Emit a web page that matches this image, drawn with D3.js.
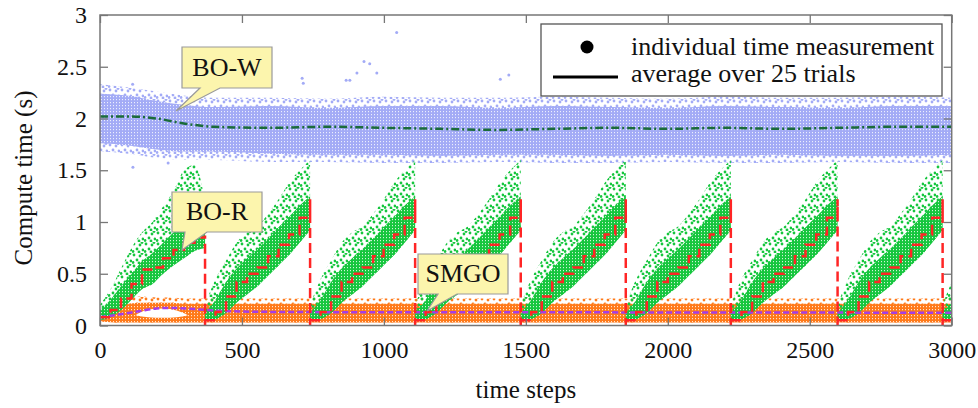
<!DOCTYPE html>
<html>
<head>
<meta charset="utf-8">
<script src="https://cdn.jsdelivr.net/npm/d3@7"></script>
<style>
    body { margin: 0; background: #fff; }
    svg { display: block; }
    svg text { font-family: "Liberation Serif", "Times New Roman", serif; fill: #111; }
</style>
</head>
<body>
<svg id="chart" width="978" height="408" font-family="Liberation Serif, serif"></svg>
<script>
// ---- data ----
const xTicks = [0, 500, 1000, 1500, 2000, 2500, 3000];
const yTicks = [0, 0.5, 1, 1.5, 2, 2.5, 3];
const legendLabels = ['individual time measurement', 'average over 25 trials'];
const seriesNames = ['BO-W', 'BO-R', 'SMGO'];

// BO-W: band of measurements and its average
const bowSteps = [0, 100, 200, 300, 400, 600, 800, 1000, 1200, 1400, 1600, 1800, 2000, 2200, 2400, 2600, 2800, 3000];
const bowLow = [1.76, 1.74, 1.70, 1.68, 1.68, 1.66, 1.65, 1.65, 1.64, 1.65, 1.65, 1.64, 1.65, 1.64, 1.65, 1.64, 1.64, 1.65];
const bowHigh = [2.24, 2.22, 2.17, 2.13, 2.11, 2.12, 2.10, 2.12, 2.12, 2.10, 2.12, 2.11, 2.10, 2.12, 2.11, 2.10, 2.12, 2.12];
const bowOuterLow = [1.68, 1.66, 1.62, 1.60, 1.60, 1.58, 1.58, 1.57, 1.57, 1.58, 1.57, 1.57, 1.58, 1.57, 1.57, 1.58, 1.57, 1.57];
const bowOuterHigh = [2.33, 2.30, 2.26, 2.22, 2.20, 2.20, 2.19, 2.21, 2.20, 2.20, 2.21, 2.20, 2.19, 2.21, 2.20, 2.20, 2.21, 2.20];
const bowAvg = [2.02, 2.02, 2.00, 1.95, 1.92, 1.91, 1.92, 1.91, 1.90, 1.89, 1.90, 1.91, 1.90, 1.91, 1.90, 1.91, 1.92, 1.92];
const bowOutlierSteps = [1045, 930, 950, 905, 975, 880, 712, 716, 867, 1410, 1440, 1700, 1720, 2300, 2280, 2380, 2420, 2680, 2920, 2890, 115, 116, 240];
const bowOutlierValues = [2.83, 2.55, 2.53, 2.44, 2.44, 2.37, 2.39, 2.34, 2.37, 2.38, 2.42, 2.30, 2.27, 2.30, 2.25, 2.40, 2.33, 2.32, 2.30, 2.27, 2.33, 1.53, 1.57];

// BO-R: restarts, and the shape of one cycle (t = fraction of the cycle)
const borResets = [0, 370, 740, 1110, 1482, 1852, 2222, 2598, 2968];
const cycleT = [0, 0.1, 0.2, 0.3, 0.4, 0.5, 0.6, 0.7, 0.8, 0.9, 1.0];
const firstLow = [0.05, 0.08, 0.15, 0.25, 0.35, 0.40, 0.50, 0.58, 0.65, 0.72, 0.75];
const firstHigh = [0.15, 0.25, 0.38, 0.50, 0.62, 0.70, 0.80, 0.90, 1.00, 1.05, 1.00];
const firstTop = [0.20, 0.35, 0.55, 0.75, 0.90, 1.00, 1.15, 1.30, 1.50, 1.55, 1.20];
const firstAvg = [0.08, 0.15, 0.26, 0.40, 0.54, 0.56, 0.65, 0.73, 0.80, 0.85, 0.87];
const cycleLow = [0.04, 0.06, 0.12, 0.22, 0.30, 0.38, 0.48, 0.58, 0.68, 0.80, 0.92];
const cycleHigh = [0.12, 0.25, 0.42, 0.55, 0.65, 0.74, 0.84, 0.95, 1.05, 1.16, 1.25];
const cycleTop = [0.20, 0.45, 0.63, 0.80, 0.90, 0.96, 1.08, 1.22, 1.38, 1.50, 1.60];
const cycleAvg = [0.05, 0.13, 0.28, 0.42, 0.50, 0.56, 0.67, 0.78, 0.88, 1.04, 1.22];

// SMGO
const smgoSteps = [0, 50, 100, 150, 200, 250, 300, 350, 400, 500, 700, 1000, 1500, 2000, 2500, 3000];
const smgoLow = [0.04, 0.03, 0.03, 0.03, 0.03, 0.03, 0.03, 0.03, 0.03, 0.03, 0.03, 0.03, 0.03, 0.03, 0.03, 0.03];
const smgoHigh = [0.12, 0.18, 0.21, 0.22, 0.22, 0.22, 0.21, 0.21, 0.21, 0.21, 0.21, 0.21, 0.21, 0.21, 0.21, 0.21];
const smgoTop = [0.15, 0.24, 0.27, 0.28, 0.27, 0.27, 0.26, 0.26, 0.26, 0.26, 0.26, 0.26, 0.26, 0.26, 0.26, 0.26];
const smgoAvg = [0.08, 0.10, 0.12, 0.145, 0.165, 0.17, 0.165, 0.155, 0.145, 0.135, 0.13, 0.128, 0.128, 0.126, 0.125, 0.122];
// empty lens inside the SMGO band at the start
const smgoGapSteps = [125, 170, 220, 270, 310];
const smgoGapLow = [0.10, 0.08, 0.075, 0.08, 0.10];
const smgoGapHigh = [0.10, 0.155, 0.165, 0.145, 0.10];

// ---- chart ----
const svg = d3.select('#chart');
const plotLeft = 100, plotRight = 951.7, plotTop = 15, plotBottom = 325.5;
const serif = '"Liberation Serif", "Times New Roman", serif';

const x = d3.scaleLinear().domain([0, 3000]).range([plotLeft, plotRight]);
const y = d3.scaleLinear().domain([0, 3]).range([plotBottom, plotTop]);

const colors = {
    bow: '#a3abf6', bowAvg: '#1b6b3a',
    bor: '#16c63e', borAvg: '#ff2525',
    smgo: '#ff7a1a', smgoAvg: '#a43de6'
};

const defs = svg.append('defs');
defs.append('clipPath').attr('id', 'plotClip')
    .append('rect')
    .attr('x', plotLeft).attr('y', plotTop)
    .attr('width', plotRight - plotLeft).attr('height', plotBottom - plotTop + 2);

// dense: solid colour with small white gaps; sparse: loose dots
function makePattern(id, color, dense) {
    const p = defs.append('pattern')
        .attr('id', id)
        .attr('patternUnits', 'userSpaceOnUse');
    if (dense) {
        p.attr('width', 3).attr('height', 3);
        p.append('rect').attr('width', 3).attr('height', 3).attr('fill', color);
        p.append('rect').attr('x', 2.2).attr('y', 0).attr('width', 0.8).attr('height', 1.2).attr('fill', '#fff');
    } else {
        p.attr('width', 12).attr('height', 11);
        [[2, 2], [8, 3], [5, 7], [11, 8], [10, 0.5], [1, 9.5], [7, 10]].forEach(([cx, cy]) => {
            p.append('circle').attr('cx', cx).attr('cy', cy).attr('r', 1.4).attr('fill', color);
        });
    }
}
makePattern('bowDense', colors.bow, true);
makePattern('bowSparse', colors.bow, false);
makePattern('borDense', colors.bor, true);
makePattern('borSparse', colors.bor, false);
makePattern('smgoDense', colors.smgo, true);
makePattern('smgoSparse', colors.smgo, false);

const plot = svg.append('g').attr('clip-path', 'url(#plotClip)');

const band = d3.area()
    .x(d => x(d.x))
    .y0(d => y(d.lo))
    .y1(d => y(d.hi))
    .curve(d3.curveMonotoneX);

function zipBand(steps, lo, hi) {
    return steps.map((s, i) => ({ x: s, lo: lo[i], hi: hi[i] }));
}

// BO-W cloud
plot.append('path').datum(zipBand(bowSteps, bowOuterLow, bowOuterHigh))
    .attr('d', band).attr('fill', 'url(#bowSparse)');
plot.append('path').datum(zipBand(bowSteps, bowLow, bowHigh))
    .attr('d', band).attr('fill', 'url(#bowDense)');
plot.selectAll('.bow-out')
    .data(bowOutlierSteps.map((s, i) => ({ x: s, v: bowOutlierValues[i] })))
    .enter().append('circle')
    .attr('class', 'bow-out')
    .attr('cx', d => x(d.x)).attr('cy', d => y(d.v))
    .attr('r', 1.5).attr('fill', colors.bow);

// SMGO cloud
plot.append('path').datum(zipBand(smgoSteps, smgoLow, smgoTop))
    .attr('d', band).attr('fill', 'url(#smgoSparse)');
plot.append('path').datum(zipBand(smgoSteps, smgoLow, smgoHigh))
    .attr('d', band).attr('fill', 'url(#smgoDense)');
plot.append('path').datum(zipBand(smgoGapSteps, smgoGapLow, smgoGapHigh))
    .attr('d', band).attr('fill', '#fff');

// BO-R cycles
const cycles = borResets.map((start, k) => {
    const len = k < borResets.length - 1 ? borResets[k + 1] - start : 370;
    const first = k === 0;
    return cycleT.map((t, i) => ({
        x: start + t * len,
        lo: first ? firstLow[i] : cycleLow[i],
        hi: first ? firstHigh[i] : cycleHigh[i],
        top: first ? firstTop[i] : cycleTop[i],
        avg: first ? firstAvg[i] : cycleAvg[i]
    }));
});

cycles.forEach(c => {
    plot.append('path')
        .datum(c.map(d => ({ x: d.x, lo: d.lo, hi: d.top })))
        .attr('d', band).attr('fill', 'url(#borSparse)');
    plot.append('path')
        .datum(c)
        .attr('d', band).attr('fill', 'url(#borDense)');
});

// averages
plot.append('path')
    .datum(smgoSteps.map((s, i) => ({ x: s, v: smgoAvg[i] })))
    .attr('d', d3.line().x(d => x(d.x)).y(d => y(d.v)).curve(d3.curveMonotoneX))
    .attr('fill', 'none').attr('stroke', colors.smgoAvg)
    .attr('stroke-width', 2.5).attr('stroke-dasharray', '6,3');

cycles.forEach(c => {
    const pts = c.map(d => ({ x: d.x, v: d.avg }));
    pts.push({ x: c[c.length - 1].x, v: 0 });
    plot.append('path')
        .datum(pts)
        .attr('d', d3.line().x(d => x(d.x)).y(d => y(d.v)).curve(d3.curveStepAfter))
        .attr('fill', 'none').attr('stroke', colors.borAvg)
        .attr('stroke-width', 2.5).attr('stroke-dasharray', '10,5');
});

plot.append('path')
    .datum(bowSteps.map((s, i) => ({ x: s, v: bowAvg[i] })))
    .attr('d', d3.line().x(d => x(d.x)).y(d => y(d.v)).curve(d3.curveMonotoneX))
    .attr('fill', 'none').attr('stroke', colors.bowAvg)
    .attr('stroke-width', 2.5).attr('stroke-dasharray', '8,3,2,3');

// axes (ticks on all four sides, pointing in)
const axisColor = '#777';
const plain = d3.format('');
function styleAxis(g) {
    g.attr('font-family', serif);
    g.select('.domain').remove();
    g.selectAll('line').attr('stroke', axisColor).attr('stroke-width', 1.3);
    g.selectAll('text').style('font-size', '24px').style('font-family', serif).attr('fill', '#111');
}
svg.append('g').attr('transform', `translate(0,${plotBottom})`)
    .call(d3.axisBottom(x).tickValues(xTicks).tickFormat(plain).tickSize(-8).tickSizeOuter(0).tickPadding(15))
    .call(styleAxis);
svg.append('g').attr('transform', `translate(0,${plotTop})`)
    .call(d3.axisTop(x).tickValues(xTicks).tickSize(-8).tickSizeOuter(0).tickFormat(''))
    .call(styleAxis);
svg.append('g').attr('transform', `translate(${plotLeft},0)`)
    .call(d3.axisLeft(y).tickValues(yTicks).tickFormat(plain).tickSize(-8).tickSizeOuter(0).tickPadding(13))
    .call(styleAxis);
svg.append('g').attr('transform', `translate(${plotRight},0)`)
    .call(d3.axisRight(y).tickValues(yTicks).tickSize(-8).tickSizeOuter(0).tickFormat(''))
    .call(styleAxis);

svg.append('rect')
    .attr('x', plotLeft).attr('y', plotTop)
    .attr('width', plotRight - plotLeft).attr('height', plotBottom - plotTop)
    .attr('fill', 'none').attr('stroke', axisColor).attr('stroke-width', 1.5);

svg.append('text')
    .attr('x', (plotLeft + plotRight) / 2).attr('y', 398)
    .attr('text-anchor', 'middle').style('font-size', '25px').style('font-family', serif)
    .text('time steps');
svg.append('text')
    .attr('transform', 'translate(32,178) rotate(-90)')
    .attr('text-anchor', 'middle').style('font-size', '25px').style('font-family', serif)
    .text('Compute time (s)');

// legend
const legend = svg.append('g');
legend.append('rect')
    .attr('x', 541).attr('y', 24).attr('width', 401).attr('height', 72)
    .attr('fill', '#fff').attr('stroke', '#555').attr('stroke-width', 1.3);
legend.append('circle').attr('cx', 587).attr('cy', 47).attr('r', 6.5).attr('fill', '#000');
legend.append('line')
    .attr('x1', 553).attr('x2', 618).attr('y1', 77).attr('y2', 77)
    .attr('stroke', '#000').attr('stroke-width', 3);
legend.selectAll('.leg-text')
    .data(legendLabels)
    .enter().append('text')
    .attr('class', 'leg-text')
    .attr('x', 631).attr('y', (d, i) => 55 + i * 27)
    .style('font-size', '26px').style('font-family', serif)
    .text(d => d);

// callouts: box [x0, y0, x1, y1], pointer base [bx0, bx1], tip [tx, ty] in pixels
const callouts = [
    { label: seriesNames[0], box: [182, 47, 272, 88], base: [200, 220], tip: [176, 111] },
    { label: seriesNames[1], box: [172, 192, 262, 232], base: [185, 207], tip: [182, 250] },
    { label: seriesNames[2], box: [418, 254, 508, 294], base: [438, 457], tip: [427, 311] }
];
callouts.forEach(c => {
    const [x0, y0, x1, y1] = c.box;
    const path = d3.path();
    path.moveTo(x0, y0);
    path.lineTo(x1, y0);
    path.lineTo(x1, y1);
    path.lineTo(c.base[1], y1);
    path.lineTo(c.tip[0], c.tip[1]);
    path.lineTo(c.base[0], y1);
    path.lineTo(x0, y1);
    path.closePath();
    svg.append('path')
        .attr('d', path.toString())
        .attr('fill', '#fcf5ad').attr('stroke', '#9a9a9a').attr('stroke-width', 1.2);
    svg.append('text')
        .attr('x', (x0 + x1) / 2).attr('y', y1 - 12)
        .attr('text-anchor', 'middle').style('font-size', '26px').style('font-family', serif)
        .text(c.label);
});
</script>
</body>
</html>
